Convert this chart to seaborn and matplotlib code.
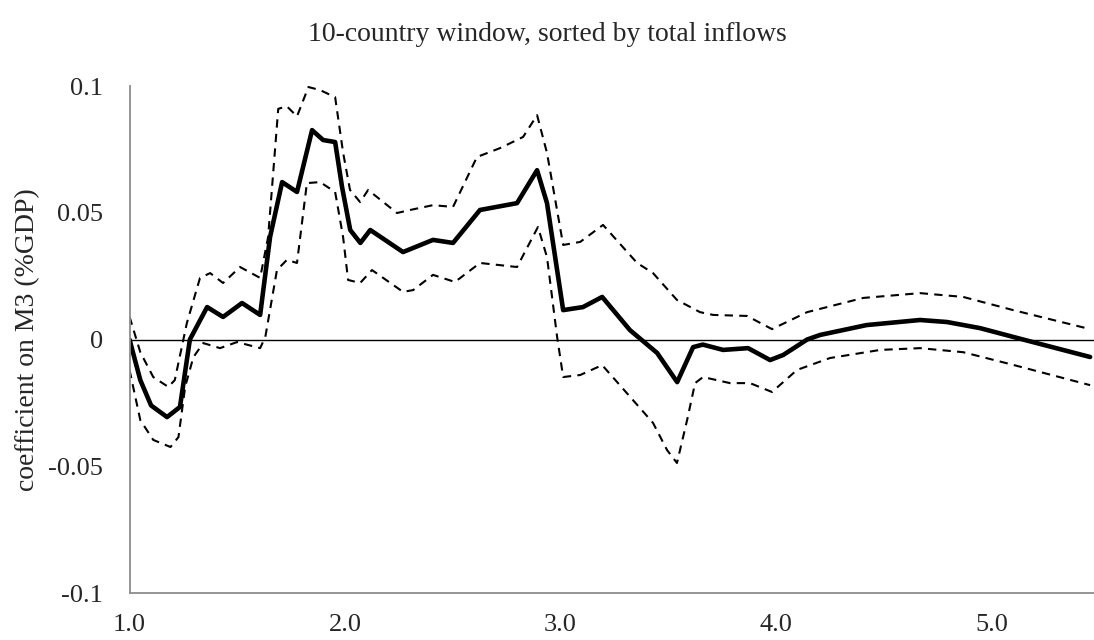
import numpy as np
import pandas as pd
import matplotlib
matplotlib.use("Agg")
import matplotlib.pyplot as plt
import seaborn as sns

# Coefficient estimate (solid)
coef_x = [1.0, 1.05, 1.10, 1.174, 1.234, 1.28, 1.36, 1.434, 1.522, 1.606, 1.652, 1.708,
          1.777, 1.847, 1.898, 1.954, 1.986, 2.024, 2.071, 2.117, 2.269, 2.408, 2.501,
          2.626, 2.798, 2.891, 2.937, 3.012, 3.104, 3.193, 3.322, 3.448, 3.541, 3.615,
          3.66, 3.754, 3.87, 3.972, 4.033, 4.144, 4.204, 4.42, 4.668, 4.793, 4.946,
          5.146, 5.457]
coef_y = [0.0, -0.016, -0.026, -0.0306, -0.0266, 0.0, 0.0128, 0.0089, 0.0144, 0.0097, 0.0404,
          0.0621, 0.0582, 0.0826, 0.0787, 0.0779, 0.0602, 0.0432, 0.0381, 0.0432, 0.0345,
          0.0393, 0.0381, 0.0511, 0.0538, 0.0668, 0.0538, 0.0116, 0.0128, 0.0168, 0.0037,
          -0.0053, -0.0168, -0.003, -0.002, -0.0041, -0.0034, -0.0081, -0.0061, 0.0,
          0.0018, 0.0057, 0.0077, 0.0069, 0.0045, 0.0, -0.0069]

# Upper confidence band (dashed)
upper_x = [1.0, 1.05, 1.11, 1.18, 1.21, 1.266, 1.327, 1.374, 1.434, 1.513, 1.606, 1.643,
           1.69, 1.73, 1.777, 1.83, 1.884, 1.954, 1.991, 2.023, 2.07, 2.107, 2.241, 2.302,
           2.408, 2.501, 2.612, 2.719, 2.826, 2.891, 2.937, 3.012, 3.091, 3.197, 3.355,
           3.429, 3.54, 3.647, 3.708, 3.865, 3.981, 4.144, 4.404, 4.668, 4.868, 5.1, 5.457]
upper_y = [0.009, -0.005, -0.0148, -0.0187, -0.016, 0.0065, 0.0243, 0.0262, 0.0223, 0.0286,
           0.0243, 0.0404, 0.091, 0.092, 0.088, 0.0996, 0.0984, 0.0956, 0.0737, 0.059,
           0.0542, 0.059, 0.0499, 0.0511, 0.053, 0.0523, 0.072, 0.0755, 0.0799, 0.0885,
           0.0736, 0.0373, 0.0385, 0.0452, 0.0302, 0.0262, 0.0156, 0.0108, 0.0097, 0.0093,
           0.0041, 0.0108, 0.0164, 0.0183, 0.0168, 0.0116, 0.0041]

# Lower confidence band (dashed)
lower_x = [1.0, 1.05, 1.11, 1.19, 1.227, 1.258, 1.296, 1.342, 1.42, 1.499, 1.606, 1.63,
           1.684, 1.73, 1.777, 1.823, 1.884, 1.954, 1.991, 2.014, 2.07, 2.125, 2.269, 2.316,
           2.408, 2.51, 2.626, 2.798, 2.895, 2.937, 2.984, 3.012, 3.091, 3.193, 3.336,
           3.429, 3.494, 3.54, 3.587, 3.624, 3.661, 3.786, 3.879, 3.981, 4.097, 4.25,
           4.483, 4.668, 4.868, 5.1, 5.457]
lower_y = [-0.012, -0.0318, -0.0396, -0.0424, -0.0385, -0.0187, -0.007, -0.0014, -0.0034,
           -0.001, -0.0034, 0.001, 0.0274, 0.0314, 0.0302, 0.0617, 0.0621, 0.0582, 0.0404,
           0.0235, 0.0223, 0.0274, 0.0188, 0.0195, 0.0255, 0.0227, 0.0302, 0.0286, 0.0444,
           0.0325, 0.001, -0.0148, -0.014, -0.0101, -0.0239, -0.0329, -0.0436, -0.0487,
           -0.0318, -0.0172, -0.0148, -0.0172, -0.0172, -0.0207, -0.012, -0.0073, -0.0041,
           -0.0034, -0.005, -0.01, -0.018]

x_ticks = [1.0, 2.0, 3.0, 4.0, 5.0]
x_labels = ["1.0", "2.0", "3.0", "4.0", "5.0"]
y_ticks = [-0.1, -0.05, 0.0, 0.05, 0.1]
y_labels = ["-0.1", "-0.05", "0", "0.05", "0.1"]

sns.set_style("white")
plt.rcParams['font.family'] = ['Liberation Serif', 'DejaVu Serif']

fig = plt.figure(figsize=(10.94, 6.4), dpi=100)
ax = fig.add_axes([0.1184, 0.0734, 0.8816, 0.7922])

ax.axhline(0, color='black', lw=1.0, zorder=1)
sns.lineplot(x=upper_x, y=upper_y, ax=ax, color='black', lw=1.5, linestyle=(0, (4, 3)))
sns.lineplot(x=lower_x, y=lower_y, ax=ax, color='black', lw=1.5, linestyle=(0, (4, 3)))
sns.lineplot(x=coef_x, y=coef_y, ax=ax, color='black', lw=3.3)

ax.set_xlim(1.0, 5.475)
ax.set_ylim(-0.1, 0.1)
ax.set_xticks(x_ticks)
ax.set_xticklabels(x_labels)
ax.set_yticks(y_ticks)
ax.set_yticklabels(y_labels)

for s in ['top', 'right']:
    ax.spines[s].set_visible(False)
for s in ['left', 'bottom']:
    ax.spines[s].set_color('#8c8c8c')
    ax.spines[s].set_linewidth(1.3)
ax.tick_params(axis='x', direction='in', length=6, width=1.2, color='#8c8c8c',
               labelsize=19, pad=15)
ax.tick_params(axis='y', direction='out', length=5, width=1.2, color='#8c8c8c',
               labelsize=19, pad=14)

ax.set_ylabel('coefficient on M3 (%GDP)', fontsize=20, labelpad=6)
ax.set_xlabel('')
fig.suptitle('10-country window, sorted by total inflows', fontsize=20, y=0.965)

fig.savefig('out.png', dpi=100)
